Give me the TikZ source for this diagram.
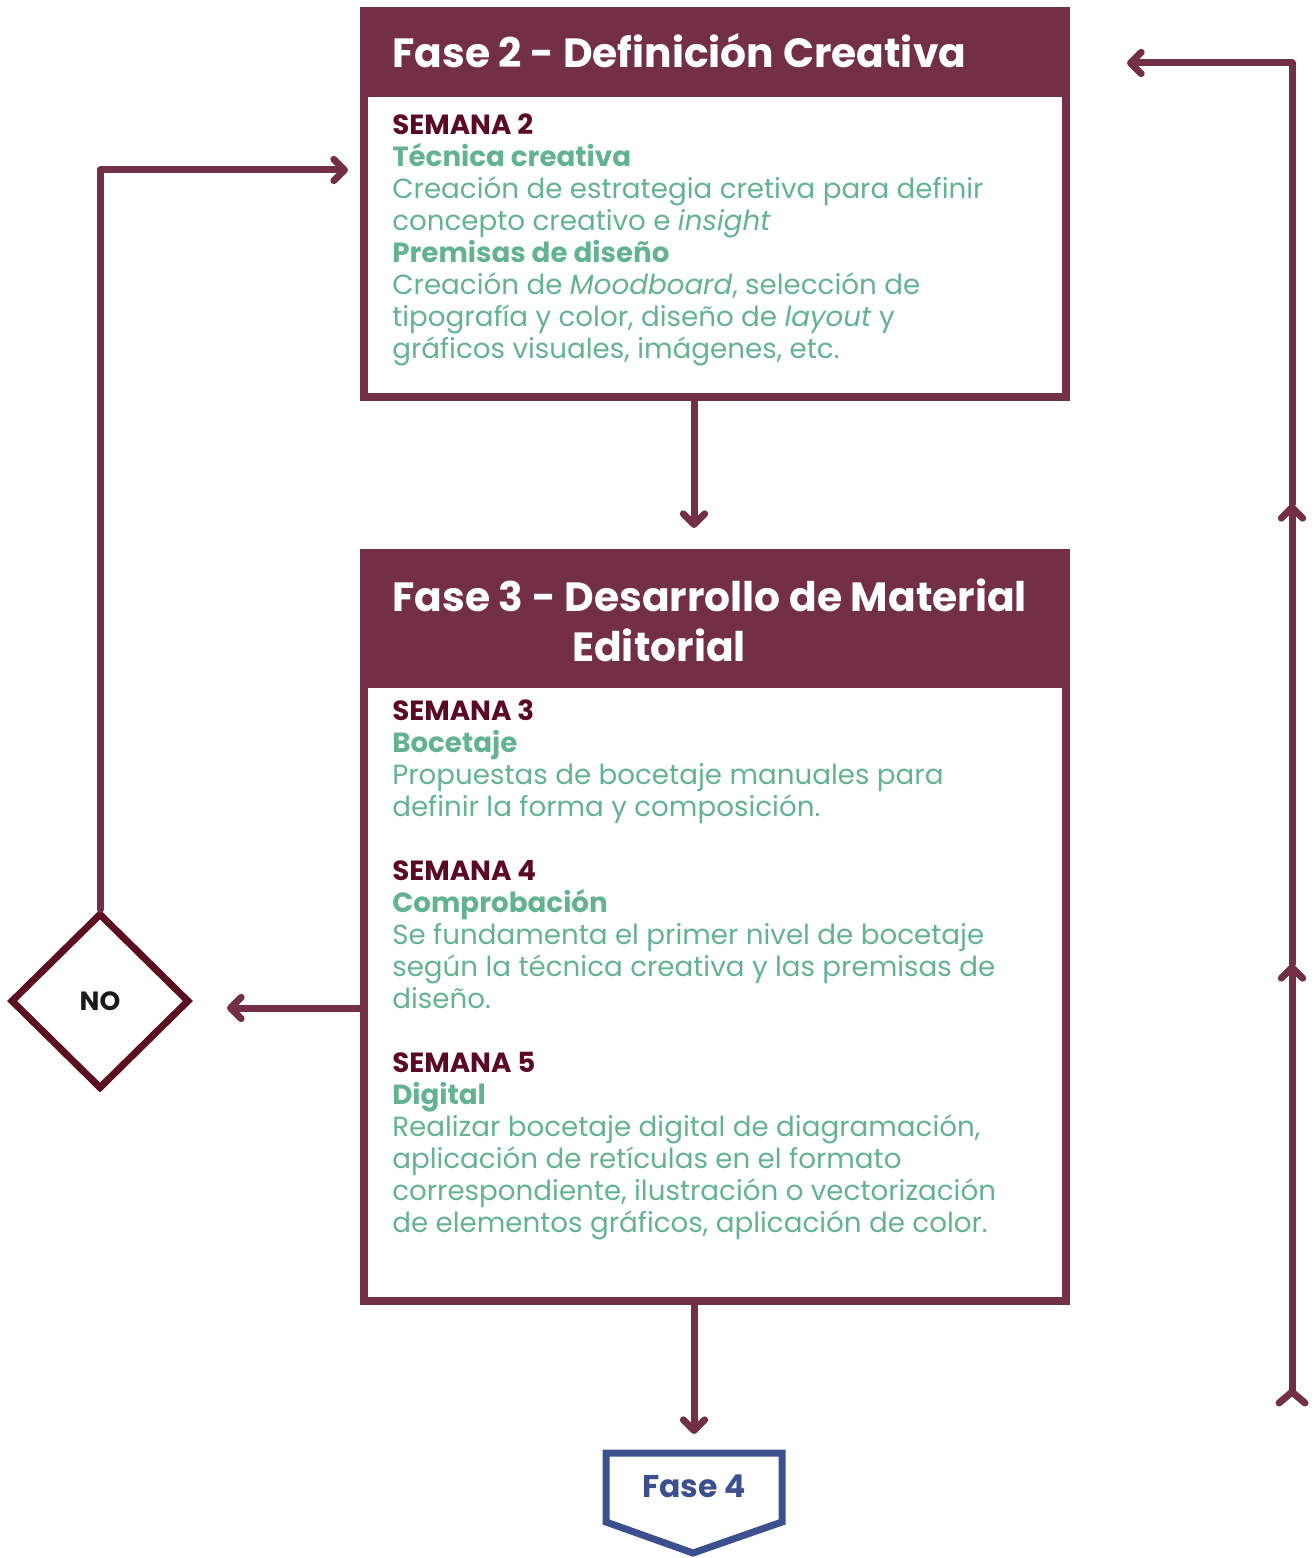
\documentclass[tikz,border=0pt]{standalone}
\usepackage{fontspec}
\setmainfont{Poppins}
\usetikzlibrary{arrows.meta,shapes.geometric,calc}
\definecolor{hdr}{HTML}{722F45}
\definecolor{sem}{HTML}{5A0A22}
\definecolor{grn}{HTML}{63B393}
\definecolor{blu}{HTML}{3C5090}
\definecolor{dia}{HTML}{5C0F22}
\definecolor{ink}{HTML}{1A1A1A}
\begin{document}
\begin{tikzpicture}[x=0.75pt,y=-0.75pt,
  conn/.style={draw=hdr, line width=5.25pt, line cap=round, line join=round,
    -{Straight Barb[length=8pt,width=16pt,round]}},
  plainline/.style={draw=hdr, line width=5.25pt, line cap=round, line join=round},
  boxframe/.style={draw=hdr, line width=6pt, rectangle, inner sep=0pt, outer sep=0pt},
  title/.style={text=white, font=\fontsize{30.6}{36}\selectfont\bfseries, inner sep=0pt},
  body/.style={text=grn, font=\fontsize{20.8}{24}\selectfont, align=left, inner sep=0pt},
  sw/.style={text=sem}]
\useasboundingbox (0,0) rectangle (1314,1558);

% Box 1
\fill[hdr] (364,11) rectangle (1066,97);
\node[boxframe, minimum width=526.5pt, minimum height=289.5pt, anchor=north west] (box1) at (364,11) {};
\node[title, anchor=base west] (t1) at (392,68) {Fase 2 - Definición Creativa};
\node[body, anchor=north west] (b1) at (392,114) {%
{\color{sem}\bfseries SEMANA 2}\\
{\bfseries Técnica creativa}\\
Creación de estrategia cretiva para definir\\
concepto creativo e \textit{insight}\\
{\bfseries Premisas de diseño}\\
Creación de \textit{Moodboard}, selección de\\
tipografía y color, diseño de \textit{layout} y\\
gráficos visuales, imágenes, etc.};

% Box 2
\fill[hdr] (364,553) rectangle (1066,688);
\node[boxframe, minimum width=526.5pt, minimum height=561pt, anchor=north west] (box2) at (364,553) {};
\node[title, anchor=base west] (t2a) at (392,611) {Fase 3 - Desarrollo de Material};
\node[title, anchor=base] (t2b) at (659,661) {Editorial};
\node[body, anchor=north west] (b2) at (392,700) {%
{\color{sem}\bfseries SEMANA 3}\\
{\bfseries Bocetaje}\\
Propuestas de bocetaje manuales para\\
definir la forma y composición.\\[24pt]
{\color{sem}\bfseries SEMANA 4}\\
{\bfseries Comprobación}\\
Se fundamenta el primer nivel de bocetaje\\
según la técnica creativa y las premisas de\\
diseño.\\[24pt]
{\color{sem}\bfseries SEMANA 5}\\
{\bfseries Digital}\\
Realizar bocetaje digital de diagramación,\\
aplicación de retículas en el formato\\
correspondiente, ilustración o vectorización\\
de elementos gráficos, aplicación de color.};

% Diamond
\node[diamond, draw=dia, line width=5.25pt, minimum width=134pt, minimum height=132pt,
  inner sep=0pt, text=ink, font=\fontsize{19.8}{22}\selectfont\bfseries] (no) at (100,1001) {NO};

% Fase 4
\node[text=blu, font=\fontsize{23.6}{28}\selectfont\bfseries, inner sep=0pt] (f4) at (694,1486) {Fase 4};
\draw[blu, line width=5.25pt, line join=miter]
  (606,1453) -- (782,1453) -- (782,1522) -- (693,1553) -- (606,1522) -- cycle;
\coordinate (f4top) at (694,1434);

% Connectors
\draw[conn] (box1.south -| 694,0) -- (694,528);
\draw[conn] (box2.south -| 694,0) -- (f4top);
\draw[conn] (box2.west |- 0,1008) -- (227,1008);
\draw[conn] (no.north) -- (100,170) -- (348,170);

% Right return line
\coordinate (r0) at (1292,1392);
\coordinate (r1) at (1292,964);
\coordinate (r2) at (1292,504);
\coordinate (r3) at (1292,63);
\coordinate (r4) at (1127,63);
\draw[conn] (r0) -- (r1);
\draw[conn] (r1) -- (r2);
\draw[conn] (r2) -- (r3) -- (r4);
\draw[plainline] ($(r0)+(-13,11)$) -- (r0) -- ($(r0)+(13,11)$);
\end{tikzpicture}
\end{document}
